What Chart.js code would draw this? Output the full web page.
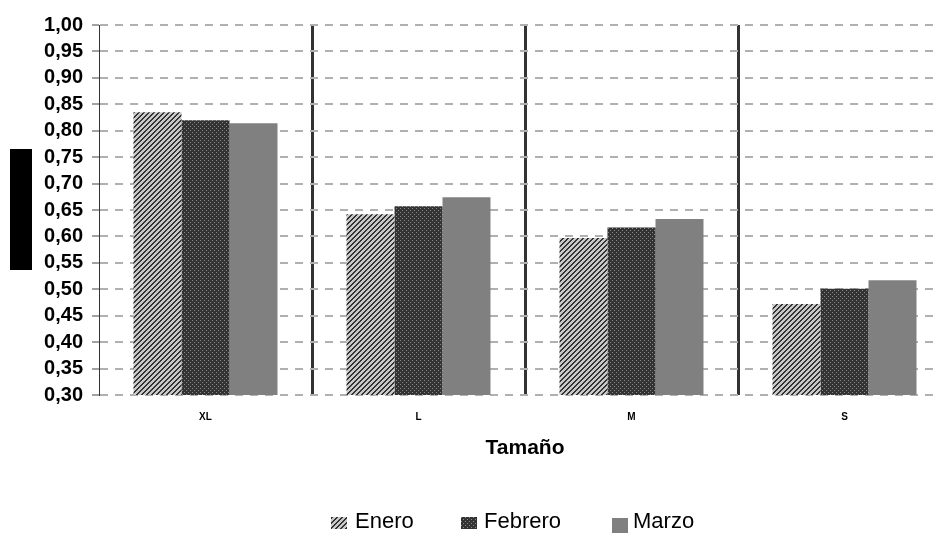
<!DOCTYPE html>
<html>
<head>
<meta charset="utf-8">
<script src="https://cdn.jsdelivr.net/npm/chart.js@4"></script>
<style>
  html, body { margin: 0; padding: 0; background: #fff; overflow: hidden; }
  #wrap { position: relative; width: 938px; height: 533px; overflow: hidden; }
  #chart { position: absolute; left: 0; top: 0; }
  #ybox { position: absolute; left: 10px; top: 149px; width: 22px; height: 121px; background: #000; }
  .leg { position: absolute; font: 22px "Liberation Sans", Arial, sans-serif; color: #000; line-height: 22px; }
</style>
</head>
<body>
<div id="wrap">
  <canvas id="chart" width="960" height="533"></canvas>
  <div id="ybox"></div>
  <div id="legend"></div>
</div>
<script>
// ── Data ──────────────────────────────────────────────────
const categories = ["XL", "L", "M", "S"];
const seriesNames = ["Enero", "Febrero", "Marzo"];
const enero = [0.835, 0.642, 0.597, 0.472];
const febrero = [0.820, 0.657, 0.617, 0.501];
const marzo = [0.814, 0.674, 0.633, 0.517];
const yMin = 0.30;
const yMax = 1.00;
const yStep = 0.05;
const xTitle = "Tamaño";

// ── Fill patterns ─────────────────────────────────────────
function makeTile(size, paint) {
  const c = document.createElement("canvas");
  c.width = size; c.height = size;
  const g = c.getContext("2d");
  paint(g, size);
  return c;
}

const stripeTile = makeTile(5, (g, n) => {
  g.fillStyle = "#c8c8c8";
  g.fillRect(0, 0, n, n);
  g.fillStyle = "#333";
  for (let x = 0; x < n; x++) {
    for (let y = 0; y < n; y++) {
      if ((x + y) % n < 2) g.fillRect(x, y, 1, 1);
    }
  }
});

const dotTile = makeTile(4, (g, n) => {
  g.fillStyle = "#333";
  g.fillRect(0, 0, n, n);
  g.fillStyle = "#8a8a8a";
  g.fillRect(0, 0, 1, 1);
  g.fillRect(2, 2, 1, 1);
});

const ctx = document.getElementById("chart").getContext("2d");
const fills = [
  ctx.createPattern(stripeTile, "repeat"),
  ctx.createPattern(dotTile, "repeat"),
  "#808080"
];

// ── Chart ─────────────────────────────────────────────────
const FONT = "'Liberation Sans', Arial, sans-serif";

new Chart(ctx, {
  type: "bar",
  data: {
    labels: categories,
    datasets: [enero, febrero, marzo].map((vals, i) => ({
      label: seriesNames[i],
      data: vals,
      backgroundColor: fills[i],
      borderWidth: 0,
      categoryPercentage: 0.676,
      barPercentage: 1
    }))
  },
  options: {
    responsive: false,
    animation: false,
    devicePixelRatio: 1,
    layout: { padding: { left: 0, right: 9, top: 25, bottom: 0 } },
    plugins: { legend: { display: false }, tooltip: { enabled: false } },
    scales: {
      x: {
        afterFit: (s) => { s.height = 138; },
        border: { display: false },
        grid: {
          offset: true,
          drawTicks: false,
          lineWidth: 3,
          color: (c) => (c.index === 0 || c.index === categories.length) ? "rgba(0,0,0,0)" : "#333"
        },
        ticks: {
          padding: 16,
          color: "#000",
          font: { family: FONT, size: 10, weight: "bold" }
        },
        title: {
          display: true,
          text: xTitle,
          color: "#000",
          font: { family: FONT, size: 21, weight: "bold" },
          padding: { top: 0, bottom: 72 }
        }
      },
      y: {
        min: yMin,
        max: yMax,
        afterFit: (s) => { s.width = 99; },
        border: { display: true, color: "#333", width: 1, dash: [8, 7] },
        grid: {
          color: "#b0b0b0",
          lineWidth: 2,
          tickLength: 7,
          tickColor: "#444",
          tickWidth: 1,
          tickBorderDash: []
        },
        ticks: {
          stepSize: yStep,
          autoSkip: false,
          padding: 9,
          color: "#000",
          font: { family: FONT, size: 20, weight: "bold", lineHeight: 1 },
          callback: (v) => Number(v).toFixed(2).replace(".", ",")
        }
      }
    }
  }
});

// ── Legend (HTML) ─────────────────────────────────────────
const legendItems = [
  { icon: [331, 517, 16, 12], textX: 355 },
  { icon: [461, 517, 16, 12], textX: 484 },
  { icon: [612, 518, 16, 15], textX: 633 }
];
const legendEl = document.getElementById("legend");
legendItems.forEach((item, i) => {
  const [ix, iy, iw, ih] = item.icon;
  const ic = document.createElement("canvas");
  ic.width = iw; ic.height = ih;
  ic.style.left = ix + "px"; ic.style.top = iy + "px";
  ic.style.position = "absolute";
  const g = ic.getContext("2d");
  g.fillStyle = i === 0 ? g.createPattern(stripeTile, "repeat")
    : i === 1 ? g.createPattern(dotTile, "repeat") : fills[2];
  g.fillRect(0, 0, iw, ih);
  legendEl.appendChild(ic);

  const t = document.createElement("div");
  t.className = "leg";
  t.textContent = seriesNames[i];
  t.style.left = item.textX + "px";
  t.style.top = "510px";
  legendEl.appendChild(t);
});
</script>
</body>
</html>
